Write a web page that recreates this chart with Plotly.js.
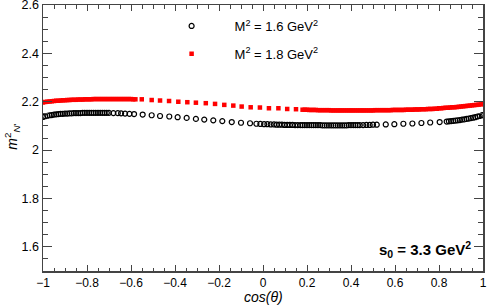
<!DOCTYPE html>
<html>
<head>
<meta charset="utf-8">
<script src="https://cdn.plot.ly/plotly-3.0.1.min.js"></script>
<style>html,body{margin:0;padding:0;background:#fff;}#plot{width:487px;height:305px;}</style>
</head>
<body>
<div id="plot"></div>
<script>
// M^2 = 1.6 GeV^2 (open circles)
var cosTheta16 = [
 -1.00,-0.99,-0.98,-0.97,-0.96,-0.95,-0.94,-0.93,-0.92,-0.91,-0.90,-0.89,-0.88,-0.87,-0.86,-0.85,
 -0.84,-0.83,-0.82,-0.81,-0.80,-0.79,-0.78,-0.77,-0.76,-0.75,-0.74,-0.73,-0.72,-0.71,-0.70,
 -0.68,-0.66,-0.645,-0.627,-0.607,
 -0.586,-0.547,-0.506,-0.468,-0.426,-0.388,-0.347,-0.305,-0.267,-0.226,-0.185,-0.142,-0.100,-0.059,
 -0.030,-0.012,0.005,0.020,0.035,0.050,0.062,0.074,0.086,0.098,0.110,0.122,0.134,0.146,0.158,0.170,0.180,
 0.19,0.20,0.21,0.22,0.23,0.24,0.25,0.26,0.27,0.28,0.29,0.30,0.31,0.32,0.33,0.34,0.35,0.36,0.37,0.38,0.39,0.40,0.41,0.42,0.43,0.44,
 0.455,0.470,0.485,0.500,
 0.517,0.558,0.597,0.638,0.679,0.720,0.760,0.803,
 0.835,0.845,0.855,0.865,0.875,0.885,0.895,0.905,0.915,0.925,0.935,0.945,0.955,0.965,0.975,0.985,0.995,1.000
];
var mN16 = [
 2.137,2.140,2.142,2.144,2.145,2.147,2.148,2.149,2.150,2.150,2.151,2.151,2.152,2.152,2.153,2.153,
 2.153,2.153,2.154,2.154,2.154,2.154,2.154,2.154,2.154,2.154,2.154,2.154,2.154,2.154,2.154,
 2.153,2.153,2.152,2.151,2.150,
 2.149,2.147,2.144,2.141,2.139,2.136,2.133,2.129,2.126,2.123,2.120,2.116,2.113,2.111,
 2.109,2.108,2.107,2.107,2.106,2.106,2.105,2.105,2.105,2.104,2.104,2.104,2.104,2.103,2.103,2.103,2.103,
 2.103,2.103,2.103,2.103,2.103,2.103,2.103,2.103,2.102,2.102,2.102,2.102,2.102,2.102,2.102,2.102,2.102,2.102,2.102,2.102,2.103,2.103,2.103,2.103,2.103,2.103,
 2.103,2.104,2.104,2.105,
 2.105,2.106,2.107,2.109,2.110,2.112,2.114,2.116,
 2.118,2.119,2.120,2.121,2.122,2.123,2.124,2.126,2.127,2.129,2.130,2.132,2.134,2.136,2.139,2.141,2.144,2.145
];
// M^2 = 1.8 GeV^2 (red markers)
var cosTheta18 = [
 -1.00,-0.99,-0.98,-0.97,-0.96,-0.95,-0.94,-0.93,-0.92,-0.91,-0.90,-0.89,-0.88,-0.87,-0.86,-0.85,
 -0.84,-0.83,-0.82,-0.81,-0.80,-0.79,-0.78,-0.77,-0.76,-0.75,-0.74,-0.73,-0.72,-0.71,-0.70,
 -0.69,-0.68,-0.67,-0.66,-0.65,-0.64,-0.63,-0.62,-0.61,-0.60,-0.59,-0.58,
 -0.551,-0.506,-0.468,-0.427,-0.385,-0.344,-0.305,-0.260,-0.218,-0.176,-0.135,-0.097,-0.056,-0.014,0.027,0.070,0.110,0.150,
 0.18,0.19,0.20,0.21,0.22,0.23,0.24,0.25,0.26,0.27,0.28,0.29,0.30,0.31,0.32,0.33,0.34,0.35,0.36,0.37,0.38,0.39,
 0.40,0.41,0.42,0.43,0.44,0.45,0.46,0.47,0.48,0.49,0.50,0.51,0.52,0.53,0.54,0.55,0.56,0.57,0.58,0.59,
 0.60,0.61,0.62,0.63,0.64,0.65,0.66,0.67,0.68,0.69,0.70,0.71,0.72,0.73,0.74,0.75,0.76,0.77,0.78,0.79,
 0.80,0.81,0.82,0.83,0.84,0.85,0.86,0.87,0.88,0.89,0.90,0.91,0.92,0.93,0.94,0.95,0.96,0.97,0.98,0.99,1.00
];
var mN18 = [
 2.197,2.199,2.200,2.201,2.202,2.203,2.204,2.204,2.205,2.206,2.206,2.207,2.207,2.208,2.208,2.208,
 2.209,2.209,2.209,2.210,2.210,2.210,2.210,2.211,2.211,2.211,2.211,2.211,2.211,2.211,2.211,
 2.211,2.211,2.211,2.211,2.211,2.211,2.211,2.211,2.211,2.211,2.210,2.210,
 2.210,2.207,2.205,2.203,2.200,2.198,2.196,2.194,2.191,2.187,2.184,2.180,2.177,2.176,2.173,2.173,2.170,2.169,
 2.167,2.167,2.167,2.166,2.166,2.166,2.166,2.165,2.165,2.165,2.165,2.165,2.165,2.164,2.164,2.164,2.164,2.164,2.164,2.164,2.164,2.164,
 2.164,2.164,2.164,2.164,2.164,2.164,2.164,2.164,2.164,2.164,2.164,2.165,2.165,2.165,2.165,2.165,2.165,2.165,2.165,2.166,
 2.166,2.166,2.166,2.166,2.166,2.167,2.167,2.167,2.167,2.168,2.168,2.168,2.169,2.169,2.169,2.170,2.170,2.170,2.171,2.171,
 2.173,2.173,2.174,2.175,2.175,2.176,2.177,2.177,2.178,2.179,2.180,2.181,2.182,2.183,2.184,2.185,2.186,2.187,2.188,2.189,2.191
];
var xTickVals = [-1, -0.8, -0.6, -0.4, -0.2, 0, 0.2, 0.4, 0.6, 0.8, 1];
var yTickVals = [1.6, 1.8, 2, 2.2, 2.4, 2.6];
var legendLabels = ['M<sup>2</sup> = 1.6 GeV<sup>2</sup>', 'M<sup>2</sup> = 1.8 GeV<sup>2</sup>'];
var xTitle = '<i>cos(θ)</i>';
var yTitle = '<i>m</i><sup>2</sup><sub><i>N</i>\'</sub>';
var boxText = '<b>s<sub>0</sub> = 3.3 GeV<sup>2</sup></b>';

var font = 'Liberation Sans, Arial, Helvetica, sans-serif';
var axisColor = '#444444';

var traces = [
  {x: cosTheta16, y: mN16, type: 'scatter', mode: 'markers', name: legendLabels[0], legendgroup: 'a',
   marker: {symbol: 'circle-open', size: 5, color: '#000000', line: {width: 1.2, color: '#000000'}}},
  {x: cosTheta18, y: mN18, type: 'scatter', mode: 'markers', name: legendLabels[1], legendgroup: 'b',
   marker: {symbol: 'square', size: 4.5, color: '#ff0000', line: {width: 0}}}
];

var layout = {
  width: 487, height: 305,
  margin: {l: 43, r: 4, t: 5, b: 33.5, pad: 0},
  paper_bgcolor: '#ffffff', plot_bgcolor: '#ffffff',
  font: {family: font, size: 12, color: '#000000'},
  showlegend: true,
  legend: {x: 0.24, y: 0.9775, xanchor: 'left', yanchor: 'top', bgcolor: 'rgba(0,0,0,0)', itemwidth: 76,
           font: {family: font, size: 13, color: '#000000'}, tracegroupgap: 8, traceorder: 'grouped'},
  xaxis: {range: [-1, 1], tickmode: 'array', tickvals: xTickVals, ticks: 'inside', ticklen: 6, tickwidth: 1, tickcolor: axisColor,
          showline: true, linecolor: axisColor, linewidth: 1.5, mirror: 'ticks', showgrid: false, zeroline: false,
          ticklabeloverflow: 'allow', tickfont: {family: font, size: 12, color: '#000000'},
          minor: {dtick: 0.05, tick0: -1, ticks: 'inside', ticklen: 3.5, tickwidth: 1, tickcolor: axisColor, showgrid: false}},
  yaxis: {range: [1.5, 2.6], tickmode: 'array', tickvals: yTickVals, ticks: 'inside', ticklen: 9, tickwidth: 1, tickcolor: axisColor,
          showline: true, linecolor: axisColor, linewidth: 1.5, mirror: 'ticks', showgrid: false, zeroline: false,
          ticklabeloverflow: 'allow', tickfont: {family: font, size: 12.5, color: '#000000'},
          minor: {dtick: 0.05, tick0: 1.5, ticks: 'inside', ticklen: 5, tickwidth: 1, tickcolor: axisColor, showgrid: false}},
  annotations: [
    {text: boxText, xref: 'paper', yref: 'paper', x: 0.977, y: 0.081, xanchor: 'right', yanchor: 'middle',
     showarrow: false, font: {family: font, size: 15, color: '#000000'}},
    {text: xTitle, xref: 'paper', yref: 'paper', x: 0.5, y: -0.099, xanchor: 'center', yanchor: 'middle',
     showarrow: false, font: {family: font, size: 14, color: '#000000'}},
    {text: yTitle, xref: 'paper', yref: 'paper', x: -0.0705, y: 0.505, xanchor: 'center', yanchor: 'middle',
     textangle: -90, showarrow: false, font: {family: font, size: 14, color: '#000000'}}
  ]
};

Plotly.newPlot('plot', traces, layout, {displayModeBar: false, staticPlot: true});
</script>
</body>
</html>
